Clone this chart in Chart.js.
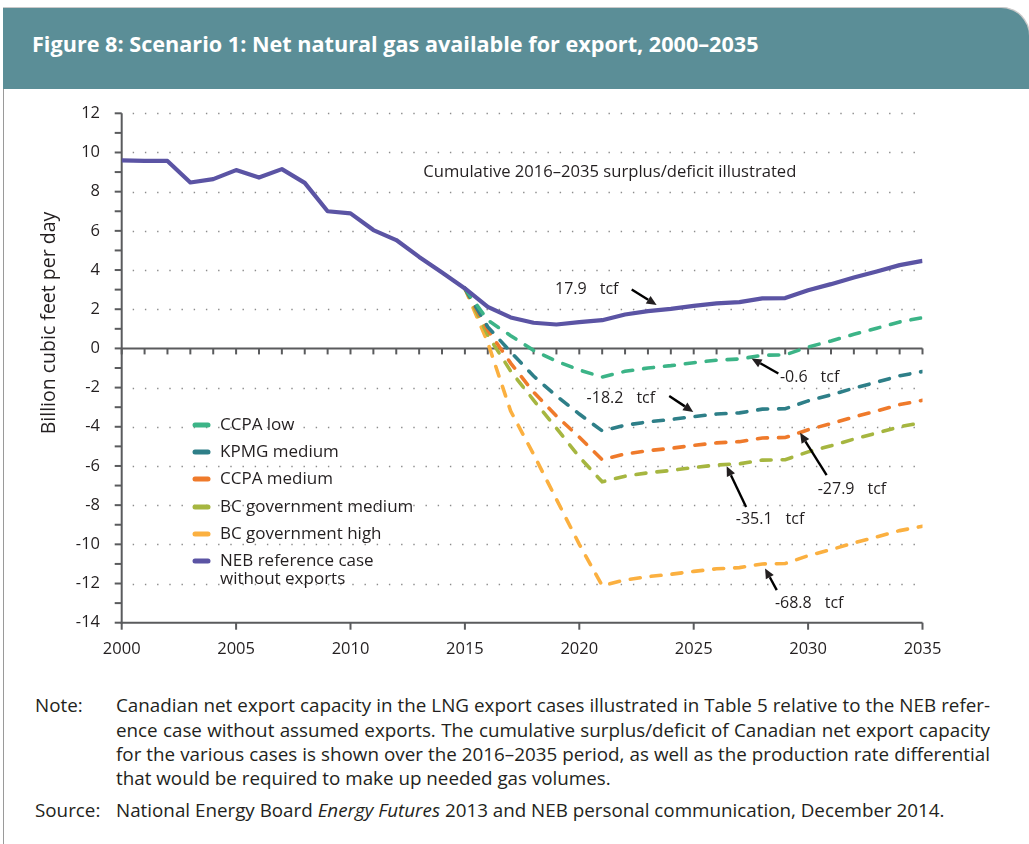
<!DOCTYPE html>
<html>
<head>
<meta charset="utf-8">
<script src="https://cdn.jsdelivr.net/npm/chart.js@4.4.1/dist/chart.umd.min.js"></script>
<style>
  body { margin:0; width:1029px; height:844px; background:#fff; position:relative; overflow:hidden;
         font-family: "Open Sans", "Liberation Sans", sans-serif; color:#231f20; }
  #head { position:absolute; left:3px; top:8px; width:1026px; height:81px; background:#5b8e97;
          border-top-right-radius:28px; box-shadow:0 -1px 0 #c9c9c9, 1px -1px 0 #c9c9c9; }
  #title { position:absolute; left:29px; top:35px; transform:translateY(-50%); color:#fff; font-weight:bold;
           font-size:20px; white-space:nowrap; }
  #frame { position:absolute; left:3px; top:89px; height:755px; border-left:1px solid #9a9a9a; }
  #wrap { position:absolute; left:0; top:0; width:1029px; height:680px; }
  .ln { position:absolute; font-size:17px; line-height:24px; white-space:nowrap; }
</style>
</head>
<body>
<div id="head"><div id="title">Figure 8: Scenario 1: Net natural gas available for export, 2000–2035</div></div>
<div id="frame"></div>
<div id="wrap"><canvas id="chart"></canvas></div>

<div class="ln" style="left:35px; top:693px;">Note:</div>
<div class="ln note" style="left:116px; top:693px;">Canadian net export capacity in the LNG export cases illustrated in Table 5 relative to the NEB refer-</div>
<div class="ln note" style="left:116px; top:718px;">ence case without assumed exports. The cumulative surplus/deficit of Canadian net export capacity</div>
<div class="ln note" style="left:116px; top:742px;">for the various cases is shown over the 2016–2035 period, as well as the production rate differential</div>
<div class="ln" style="left:116px; top:766px;">that would be required to make up needed gas volumes.</div>
<div class="ln" style="left:35px; top:798px;">Source:</div>
<div class="ln" id="src" style="left:116px; top:798px;">National Energy Board <i>Energy Futures</i> 2013 and NEB personal communication, December 2014.</div>

<script>
// years of the NEB reference case
var years = [2000, 2001, 2002, 2003, 2004, 2005, 2006, 2007, 2008, 2009, 2010, 2011,
             2012, 2013, 2014, 2015, 2016, 2017, 2018, 2019, 2020, 2021, 2022, 2023,
             2024, 2025, 2026, 2027, 2028, 2029, 2030, 2031, 2032, 2033, 2034, 2035];
var nebRef = [9.60, 9.57, 9.57, 8.47, 8.64, 9.10, 8.72, 9.15, 8.45, 7.00, 6.89, 6.04,
              5.53, 4.67, 3.88, 3.06, 2.12, 1.58, 1.31, 1.22, 1.34, 1.44, 1.73, 1.90,
              2.02, 2.17, 2.30, 2.36, 2.55, 2.57, 2.97, 3.28, 3.62, 3.93, 4.25, 4.47];

// LNG export cases, 2015-2035
var caseYears = [2015, 2016, 2017, 2018, 2019, 2020, 2021, 2022, 2023, 2024, 2025,
                 2026, 2027, 2028, 2029, 2030, 2031, 2032, 2033, 2034, 2035];
var ccpaLow = [3.06, 1.44, 0.65, -0.10, -0.65, -1.10, -1.46, -1.17, -1.00, -0.88, -0.73,
               -0.60, -0.54, -0.35, -0.33, 0.07, 0.38, 0.72, 1.03, 1.35, 1.57];
var kpmgMed = [3.06, 1.10, -0.18, -1.41, -2.43, -3.35, -4.21, -3.92, -3.75, -3.63, -3.48,
               -3.35, -3.29, -3.10, -3.08, -2.68, -2.37, -2.03, -1.72, -1.40, -1.18];
var ccpaMed = [3.06, 0.93, -0.75, -2.23, -3.45, -4.53, -5.68, -5.39, -5.22, -5.10, -4.95,
               -4.82, -4.76, -4.57, -4.55, -4.15, -3.84, -3.50, -3.19, -2.87, -2.65];
var bcMed = [3.06, 0.68, -1.16, -2.64, -4.07, -5.54, -6.81, -6.52, -6.35, -6.23, -6.08,
             -5.95, -5.89, -5.70, -5.68, -5.28, -4.97, -4.63, -4.32, -4.00, -3.78];
var bcHigh = [3.06, 0.30, -3.20, -5.40, -7.70, -10.00, -12.11, -11.82, -11.65, -11.53, -11.38,
              -11.25, -11.19, -11.00, -10.98, -10.58, -10.27, -9.93, -9.62, -9.30, -9.08];

var seriesNames = ['CCPA low', 'KPMG medium', 'CCPA medium', 'BC government medium', 'BC government high', 'NEB reference case|without exports'];
var seriesColors = ['#3cb487', '#2e7f88', '#ef7a2b', '#a6b640', '#fbb040', '#5b54a4'];

// cumulative surplus/deficit labels, arrow tail -> tip in data units
var tcfText = ['17.9', '-0.6', '-18.2', '-27.9', '-35.1', '-68.8'];
var tcfTextPos = [[2018.94, 3.03], [2028.77, -1.48], [2020.32, -2.55], [2030.42, -7.20], [2026.84, -8.73], [2028.55, -13.02]];
var arrowTail = [[2022.29, 3.01], [2028.70, -1.28], [2023.93, -2.43], [2030.81, -6.47], [2027.29, -8.09], [2028.63, -12.34]];
var arrowTip = [[2023.38, 2.21], [2027.53, -0.51], [2024.98, -3.24], [2029.65, -4.31], [2026.44, -6.01], [2028.12, -11.23]];

var yMin = -14, yMax = 12;
var fontFam = '"Open Sans", "Liberation Sans", sans-serif';
var axisCol = '#5a5b5d';

// text fitting for the header and the notes
function fitWidth(el, target) {
    var w = el.getBoundingClientRect().width;
    var fs = parseFloat(getComputedStyle(el).fontSize);
    el.style.fontSize = (fs * target / w) + 'px';
    return fs * target / w;
}
fitWidth(document.getElementById('title'), 727);
var noteSize = fitWidth(document.getElementById('src'), 945 - 116);
document.querySelectorAll('.ln').forEach(function (el) { el.style.fontSize = noteSize + 'px'; });
document.querySelectorAll('.note').forEach(function (el) {
    var w = el.getBoundingClientRect().width;
    var n = (el.textContent.match(/ /g) || []).length;
    el.style.wordSpacing = ((990 - 116 - w) / n) + 'px';
});

function pts(xs, ys) {
    return xs.map(function (x, i) { return {x: x, y: ys[i]}; });
}

var caseData = [ccpaLow, kpmgMed, ccpaMed, bcMed, bcHigh];
var datasets = caseData.map(function (d, i) {
    return {
        label: seriesNames[i], data: pts(caseYears, d), borderColor: seriesColors[i],
        borderWidth: 3.6, borderDash: [10, 11], borderCapStyle: 'round', pointRadius: 0, order: 1
    };
});
datasets.push({
    label: 'NEB reference case without exports', data: pts(years, nebRef), borderColor: seriesColors[5],
    borderWidth: 4.2, pointRadius: 0, order: 0, borderJoinStyle: 'round'
});

var framePlugin = {
    id: 'frame',
    beforeDatasetsDraw: function (chart) {
        var c = chart.ctx, a = chart.chartArea, xs = chart.scales.x, ys = chart.scales.y;
        c.save();
        // dotted grid
        c.strokeStyle = '#8c8c8c'; c.lineWidth = 1.4; c.setLineDash([1.4, 10.8]);
        for (var v = yMax; v > yMin; v -= 2) {
            if (v === 0) continue;
            var y = Math.round(ys.getPixelForValue(v)) + 0.5;
            c.beginPath(); c.moveTo(a.left + 11, y); c.lineTo(a.right, y); c.stroke();
        }
        c.setLineDash([]);
        c.strokeStyle = axisCol; c.lineWidth = 2;
        // y axis + ticks
        c.beginPath(); c.moveTo(a.left, a.top); c.lineTo(a.left, a.bottom + 1); c.stroke();
        for (var t = yMin; t <= yMax; t++) {
            var ty = ys.getPixelForValue(t);
            c.beginPath(); c.moveTo(a.left - 7, ty); c.lineTo(a.left, ty); c.stroke();
        }
        // zero line with yearly ticks
        var y0 = ys.getPixelForValue(0);
        c.beginPath(); c.moveTo(a.left, y0); c.lineTo(a.right, y0); c.stroke();
        years.forEach(function (yr) {
            var tx = xs.getPixelForValue(yr);
            c.beginPath(); c.moveTo(tx, y0); c.lineTo(tx, y0 + 6); c.stroke();
        });
        // bottom axis
        var yb = ys.getPixelForValue(yMin);
        c.beginPath(); c.moveTo(a.left - 1, yb); c.lineTo(a.right, yb); c.stroke();
        for (var yr = 2000; yr <= 2035; yr += 5) {
            var bx = xs.getPixelForValue(yr);
            c.beginPath(); c.moveTo(bx, yb); c.lineTo(bx, yb + 7); c.stroke();
        }
        c.restore();
    },
    afterDatasetsDraw: function (chart) {
        var c = chart.ctx, xs = chart.scales.x, ys = chart.scales.y;
        c.save();
        c.fillStyle = '#231f20'; c.strokeStyle = '#000';
        c.textBaseline = 'middle'; c.textAlign = 'left';
        // heading inside plot
        c.font = '16.6px ' + fontFam;
        c.fillText('Cumulative 2016–2035 surplus/deficit illustrated', xs.getPixelForValue(2013.18), ys.getPixelForValue(9.0));
        // tcf labels and arrows
        c.font = '16px ' + fontFam;
        tcfText.forEach(function (s, i) {
            var px = xs.getPixelForValue(tcfTextPos[i][0]), py = ys.getPixelForValue(tcfTextPos[i][1]);
            c.fillText(s, px, py);
            c.fillText('tcf', px + c.measureText(s).width + 13, py);
            var x1 = xs.getPixelForValue(arrowTail[i][0]), y1 = ys.getPixelForValue(arrowTail[i][1]);
            var x2 = xs.getPixelForValue(arrowTip[i][0]), y2 = ys.getPixelForValue(arrowTip[i][1]);
            var ang = Math.atan2(y2 - y1, x2 - x1), hl = 10, hw = 4.5;
            var bx = x2 - hl * Math.cos(ang), by = y2 - hl * Math.sin(ang);
            c.lineWidth = 2.4;
            c.beginPath(); c.moveTo(x1, y1); c.lineTo(bx, by); c.stroke();
            c.beginPath(); c.moveTo(x2, y2);
            c.lineTo(bx + hw * Math.sin(ang), by - hw * Math.cos(ang));
            c.lineTo(bx - hw * Math.sin(ang), by + hw * Math.cos(ang));
            c.closePath(); c.fill();
        });
        // legend
        c.font = '17px ' + fontFam;
        var lx = 193, ly = [425, 452, 479, 507, 534, 561];
        seriesNames.forEach(function (n, i) {
            c.strokeStyle = seriesColors[i]; c.lineWidth = 5; c.lineCap = 'round';
            c.beginPath(); c.moveTo(lx + 2, ly[i]); c.lineTo(lx + 15, ly[i]); c.stroke();
            c.fillStyle = '#231f20';
            n.split('|').forEach(function (part, k) { c.fillText(part, 220, ly[i] + k * 18.5); });
        });
        // axis title
        c.font = '19.5px ' + fontFam;
        c.translate(49, 323); c.rotate(-Math.PI / 2); c.textAlign = 'center';
        c.fillText('Billion cubic feet per day', 0, 0);
        c.restore();
    }
};

new Chart(document.getElementById('chart'), {
    type: 'line',
    data: {datasets: datasets},
    options: {
        responsive: true, maintainAspectRatio: false, animation: false, devicePixelRatio: 1,
        layout: {padding: {left: 0, right: 106.5, top: 113.3, bottom: 0}, autoPadding: false},
        plugins: {legend: {display: false}, tooltip: {enabled: false}},
        scales: {
            x: {
                type: 'linear', min: 2000, max: 2035,
                grid: {display: false, drawTicks: false}, border: {display: false},
                ticks: {stepSize: 5, padding: 16.5, color: '#231f20', font: {size: 16.5, family: fontFam},
                        callback: function (v) { return String(v); }, maxRotation: 0},
                afterFit: function (s) { s.height = 57.3; }
            },
            y: {
                min: yMin, max: yMax,
                grid: {display: false, drawTicks: false}, border: {display: false},
                ticks: {stepSize: 2, padding: 21.7, color: '#231f20', font: {size: 16.5, family: fontFam}},
                afterFit: function (s) { s.width = 121.7; }
            }
        }
    },
    plugins: [framePlugin]
});
</script>
</body>
</html>
